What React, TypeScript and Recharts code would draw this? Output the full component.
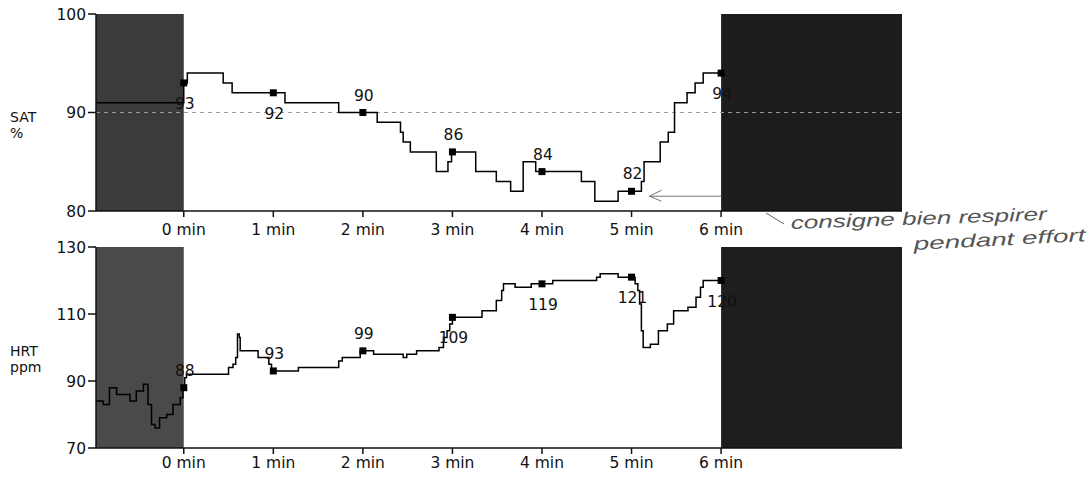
import React from 'react';
import { ComposedChart, Line, XAxis, YAxis, ReferenceArea, ReferenceLine } from 'recharts';

// oxygen saturation trace (minutes, %)
const satT = [-0.98, 0, 0.04, 0.44, 0.54, 1.13, 1.73, 2.16, 2.42, 2.45, 2.53, 2.82, 2.95, 2.99, 3.26, 3.49, 3.65, 3.79, 3.93, 4.44, 4.59, 4.85, 5.11, 5.14, 5.32, 5.41, 5.48, 5.62, 5.71, 5.8, 6];
const satV = [91, 93, 94, 93, 92, 91, 90, 89, 88, 87, 86, 84, 85, 86, 84, 83, 82, 85, 84, 83, 81, 82, 83, 85, 87, 88, 91, 92, 93, 94, 94];

// heart rate trace (minutes, ppm)
const hrtT = [-0.98, -0.9, -0.83, -0.75, -0.6, -0.53, -0.45, -0.4, -0.36, -0.32, -0.27, -0.19, -0.12, -0.04, -0.01, 0.01, 0.03, 0.5, 0.55, 0.58, 0.6, 0.62, 0.63, 0.83, 0.95, 0.98, 1.28, 1.73, 1.77, 1.97, 2.12, 2.45, 2.49, 2.6, 2.85, 2.9, 2.94, 2.97, 3, 3.33, 3.49, 3.55, 3.57, 3.7, 3.88, 4.12, 4.61, 4.65, 4.85, 5.04, 5.07, 5.09, 5.11, 5.13, 5.21, 5.3, 5.4, 5.47, 5.63, 5.72, 5.77, 5.8, 6];
const hrtV = [84, 83, 88, 86, 84, 87, 89, 83, 77, 76, 79, 80, 83, 85, 88, 91, 92, 94, 95, 97, 104, 103, 99, 97, 95, 93, 94, 96, 97, 99, 98, 97, 98, 99, 100, 103, 105, 107, 109, 111, 114, 117, 119, 118, 119, 120, 121, 122, 121, 119, 117, 113, 105, 100, 101, 105, 107, 111, 112, 115, 118, 120, 120];

// one marker per minute
const markT = [0, 1, 2, 3, 4, 5, 6];
const satMarkV = [93, 92, 90, 86, 84, 82, 94];
const satMarkLabel = ['93', '92', '90', '86', '84', '82', '94'];
const hrtMarkV = [88, 93, 99, 109, 119, 121, 120];
const hrtMarkLabel = ['88', '93', '99', '109', '119', '121', '120'];

const minuteTicks = [0, 1, 2, 3, 4, 5, 6];
const satTicks = [80, 90, 100];
const hrtTicks = [70, 90, 110, 130];

// label side for each marker
const satBelow = [true, true, false, false, false, false, true];
const hrtBelow = [false, false, false, true, true, true, true];

const FONT = '"DejaVu Sans", Verdana, sans-serif';
const X_DOMAIN = [-0.98, 8.02];

const satLine = satT.map((t, i) => ({ t, v: satV[i] }));
const hrtLine = hrtT.map((t, i) => ({ t, v: hrtV[i] }));
const satMarks = markT.map((t, i) => ({ t, v: satMarkV[i], label: satMarkLabel[i], below: satBelow[i] }));
const hrtMarks = markT.map((t, i) => ({ t, v: hrtMarkV[i], label: hrtMarkLabel[i], below: hrtBelow[i] }));

const renderMark = (props: any) => {
  const { cx, cy, payload, index } = props;
  if (cx == null || cy == null) return <g key={index} />;
  return (
    <g key={index}>
      <rect x={cx - 3.5} y={cy - 3.5} width={7} height={7} fill="#000" />
      <text
        x={cx + 1}
        y={payload.below ? cy + 26 : cy - 12}
        textAnchor="middle"
        fontFamily={FONT}
        fontSize={15.5}
        fill="#111"
      >
        {payload.label}
      </text>
    </g>
  );
};

const arrowShape = (props: any) => {
  const { x1, y1, x2, y2 } = props;
  const x = Math.min(x1, x2);
  return (
    <g>
      <line x1={x1} y1={y1} x2={x2} y2={y2} stroke="#777" strokeWidth={1} />
      <polyline points={`${x + 12},${y1 - 6} ${x},${y1} ${x + 12},${y1 + 5}`} fill="none" stroke="#777" strokeWidth={1} />
    </g>
  );
};

const tickStyle = { fill: '#111', fontSize: 15.5, fontFamily: FONT };

export default function App() {
  return (
    <div style={{ position: 'absolute', left: 0, top: 0, width: 1091, height: 477, background: '#fff' }}>
      <div style={{ position: 'absolute', left: 0, top: 0 }}>
        <ComposedChart width={1091} height={240} margin={{ top: 14, right: 189, bottom: 0, left: 0 }}>
          <XAxis
            type="number"
            dataKey="t"
            domain={X_DOMAIN}
            allowDataOverflow
            ticks={minuteTicks}
            tickFormatter={(v) => `${v} min`}
            height={29}
            tickSize={6}
            tickMargin={7}
            stroke="#111"
            strokeWidth={1.5}
            tick={tickStyle}
          />
          <YAxis
            type="number"
            domain={[80, 100]}
            ticks={satTicks}
            width={96}
            tickSize={8}
            tickMargin={2}
            stroke="#111"
            strokeWidth={1.5}
            tick={tickStyle}
          />
          <ReferenceArea x1={-0.98} x2={0} y1={80} y2={100} fill="#3b3b3b" fillOpacity={1} stroke="none" />
          <ReferenceArea x1={6} x2={8.02} y1={80} y2={100} fill="#1c1c1c" fillOpacity={1} stroke="none" />
          <ReferenceLine y={90} stroke="#999" strokeDasharray="4 4" strokeWidth={1} />
          <ReferenceLine segment={[{ x: 5.2, y: 81.5 }, { x: 6, y: 81.5 }]} shape={arrowShape} />
          <Line data={satLine} dataKey="v" type="stepAfter" stroke="#000" strokeWidth={1.5} dot={false} isAnimationActive={false} />
          <Line data={satMarks} dataKey="v" stroke="none" dot={renderMark} activeDot={false} isAnimationActive={false} />
        </ComposedChart>
      </div>
      <div style={{ position: 'absolute', left: 0, top: 236 }}>
        <ComposedChart width={1091} height={241} margin={{ top: 11, right: 189, bottom: 0, left: 0 }}>
          <XAxis
            type="number"
            dataKey="t"
            domain={X_DOMAIN}
            allowDataOverflow
            ticks={minuteTicks}
            tickFormatter={(v) => `${v} min`}
            height={29}
            tickSize={6}
            tickMargin={3}
            stroke="#111"
            strokeWidth={1.5}
            tick={tickStyle}
          />
          <YAxis
            type="number"
            domain={[70, 130]}
            ticks={hrtTicks}
            width={96}
            tickSize={8}
            tickMargin={2}
            stroke="#111"
            strokeWidth={1.5}
            tick={tickStyle}
          />
          <ReferenceArea x1={-0.98} x2={0} y1={70} y2={130} fill="#4a4a4a" fillOpacity={1} stroke="none" />
          <ReferenceArea x1={6} x2={8.02} y1={70} y2={130} fill="#1e1e1e" fillOpacity={1} stroke="none" />
          <Line data={hrtLine} dataKey="v" type="stepAfter" stroke="#000" strokeWidth={1.5} dot={false} isAnimationActive={false} />
          <Line data={hrtMarks} dataKey="v" stroke="none" dot={renderMark} activeDot={false} isAnimationActive={false} />
        </ComposedChart>
      </div>
      <svg width={1091} height={477} style={{ position: 'absolute', left: 0, top: 0, pointerEvents: 'none' }}>
        <g fontFamily={FONT} fontSize={14} fill="#111">
          <text x={10} y={122}>SAT</text>
          <text x={10} y={138}>%</text>
          <text x={10} y={356}>HRT</text>
          <text x={10} y={372}>ppm</text>
        </g>
        <line x1={766} y1={213} x2={784} y2={224} stroke="#666" strokeWidth={1} />
        <g fontFamily='"Liberation Sans", sans-serif' fontStyle="italic" fontSize={18} fill="#555">
          <text x={791} y={229} textLength={256} lengthAdjust="spacingAndGlyphs" transform="rotate(-2 791 229)">
            consigne bien respirer
          </text>
          <text x={914} y={250} textLength={172} lengthAdjust="spacingAndGlyphs" transform="rotate(-3 914 250)">
            pendant effort
          </text>
        </g>
      </svg>
    </div>
  );
}
